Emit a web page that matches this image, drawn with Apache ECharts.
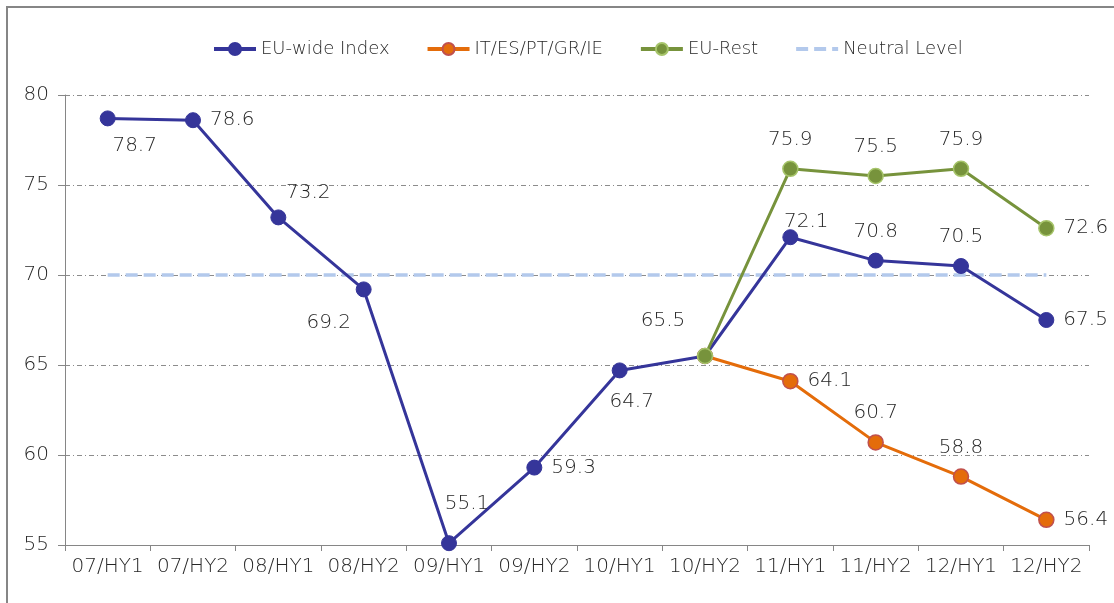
<!DOCTYPE html>
<html>
<head>
<meta charset="UTF-8">
<title>EU Index</title>
<style>
    html,body{margin:0;padding:0;width:100%;height:100%;background:#fff;}
    #wrap{width:1114px;height:603px;}
</style>
</head>
<body>
<div id="wrap"></div>
<script src="https://cdn.jsdelivr.net/npm/echarts@6/dist/echarts.min.js"></script>
<script>
    let categories = ['07/HY1','07/HY2','08/HY1','08/HY2','09/HY1','09/HY2','10/HY1','10/HY2','11/HY1','11/HY2','12/HY1','12/HY2'];
    let euWide = [78.7, 78.6, 73.2, 69.2, 55.1, 59.3, 64.7, 65.5, 72.1, 70.8, 70.5, 67.5];
    let southern = [null, null, null, null, null, null, null, 65.5, 64.1, 60.7, 58.8, 56.4];
    let euRest = [null, null, null, null, null, null, null, 65.5, 75.9, 75.5, 75.9, 72.6];
    let neutral = [70, 70, 70, 70, 70, 70, 70, 70, 70, 70, 70, 70];

    // label placement per point (style only)
    let euWideLabels = [
        ['bottom', [27, 0]], ['right', [0, 0]], ['top', [30, 2]], ['bottom', [-35, 6]],
        ['top', [18, -12]], ['right', [0, 0]], ['bottom', [12, 4]], ['top', [-42, -8]],
        ['top', [16, 12]], ['top', [0, -2]], ['top', [0, -2]], ['right', [0, 0]]
    ];
    let southernLabels = [null, null, null, null, null, null, null, null,
        ['right', [0, 0]], ['top', [0, -2]], ['top', [0, -2]], ['right', [0, 0]]];
    let restLabels = [null, null, null, null, null, null, null, null,
        ['top', [0, -2]], ['top', [0, -2]], ['top', [0, -2]], ['right', [0, 0]]];

    function build(values, labels){
        return values.map(function (v, i) {
            if (v === null) return null;
            let l = labels[i];
            if (!l) return {value: v, label: {show: false}};
            return {value: v, label: {show: true, position: l[0], offset: l[1]}};
        });
    }

    let font = 'DejaVu Sans';
    let textColor = '#262626';
    let labelStyle = {
        show: true,
        color: textColor,
        fontSize: 20,
        fontFamily: font,
        fontWeight: 200,
        distance: 9,
        formatter: function (p) { return p.value.toFixed(1); }
    };

    let mycharts = echarts.init(document.getElementById('wrap'));

    let options = {
        backgroundColor: '#fff',
        animation: false,
        textStyle: {fontFamily: font, fontWeight: 200},
        graphic: [{
            type: 'rect',
            shape: {x: 7, y: 7, width: 1130, height: 620},
            style: {fill: 'none', stroke: '#868686', lineWidth: 2},
            silent: true
        }],
        legend: {
            top: 35,
            left: 207,
            itemWidth: 42,
            itemHeight: 15,
            itemGap: 36,
            lineStyle: {width: 4},
            textStyle: {color: textColor, fontSize: 18, fontFamily: font, fontWeight: 200},
            data: ['EU-wide Index', 'IT/ES/PT/GR/IE', 'EU-Rest',
                {name: 'Neutral Level', itemStyle: {opacity: 0}}]
        },
        grid: {left: 65, right: 25, top: 95, bottom: 58, containLabel: false},
        xAxis: {
            type: 'category',
            data: categories,
            boundaryGap: true,
            axisLine: {lineStyle: {color: '#868686', width: 1}},
            axisTick: {show: true, length: 6, lineStyle: {color: '#868686'}},
            axisLabel: {color: textColor, fontSize: 20, fontFamily: font, fontWeight: 200, margin: 12, interval: 0}
        },
        yAxis: {
            type: 'value',
            min: 55,
            max: 80,
            interval: 5,
            axisLine: {show: true, lineStyle: {color: '#868686', width: 1}},
            axisTick: {show: true, length: 7, lineStyle: {color: '#868686'}},
            axisLabel: {color: textColor, fontSize: 20, fontFamily: font, fontWeight: 200, margin: 16},
            splitLine: {lineStyle: {color: '#8c8c8c', width: 1, type: [5, 3, 1, 3]}}
        },
        series: [
            {
                name: 'Neutral Level',
                type: 'line',
                data: neutral,
                symbol: 'none',
                z: 1,
                lineStyle: {color: '#B3C9EC', width: 3.5, type: [12, 6]},
                itemStyle: {color: '#B3C9EC'}
            },
            {
                name: 'EU-wide Index',
                type: 'line',
                data: build(euWide, euWideLabels),
                symbol: 'circle',
                symbolSize: 15,
                z: 3,
                lineStyle: {color: '#35359A', width: 3},
                itemStyle: {color: '#35359A', borderColor: '#35359A', borderWidth: 1},
                label: labelStyle
            },
            {
                name: 'IT/ES/PT/GR/IE',
                type: 'line',
                data: build(southern, southernLabels),
                symbol: 'circle',
                symbolSize: 15,
                z: 4,
                lineStyle: {color: '#E46C0A', width: 3},
                itemStyle: {color: '#E46C0A', borderColor: '#C0504D', borderWidth: 1.5},
                label: labelStyle
            },
            {
                name: 'EU-Rest',
                type: 'line',
                data: build(euRest, restLabels),
                symbol: 'circle',
                symbolSize: 15,
                z: 5,
                lineStyle: {color: '#77933C', width: 3},
                itemStyle: {color: '#77933C', borderColor: '#A6C46A', borderWidth: 1.5},
                label: labelStyle
            }
        ]
    };

    mycharts.setOption(options);
</script>
</body>
</html>
